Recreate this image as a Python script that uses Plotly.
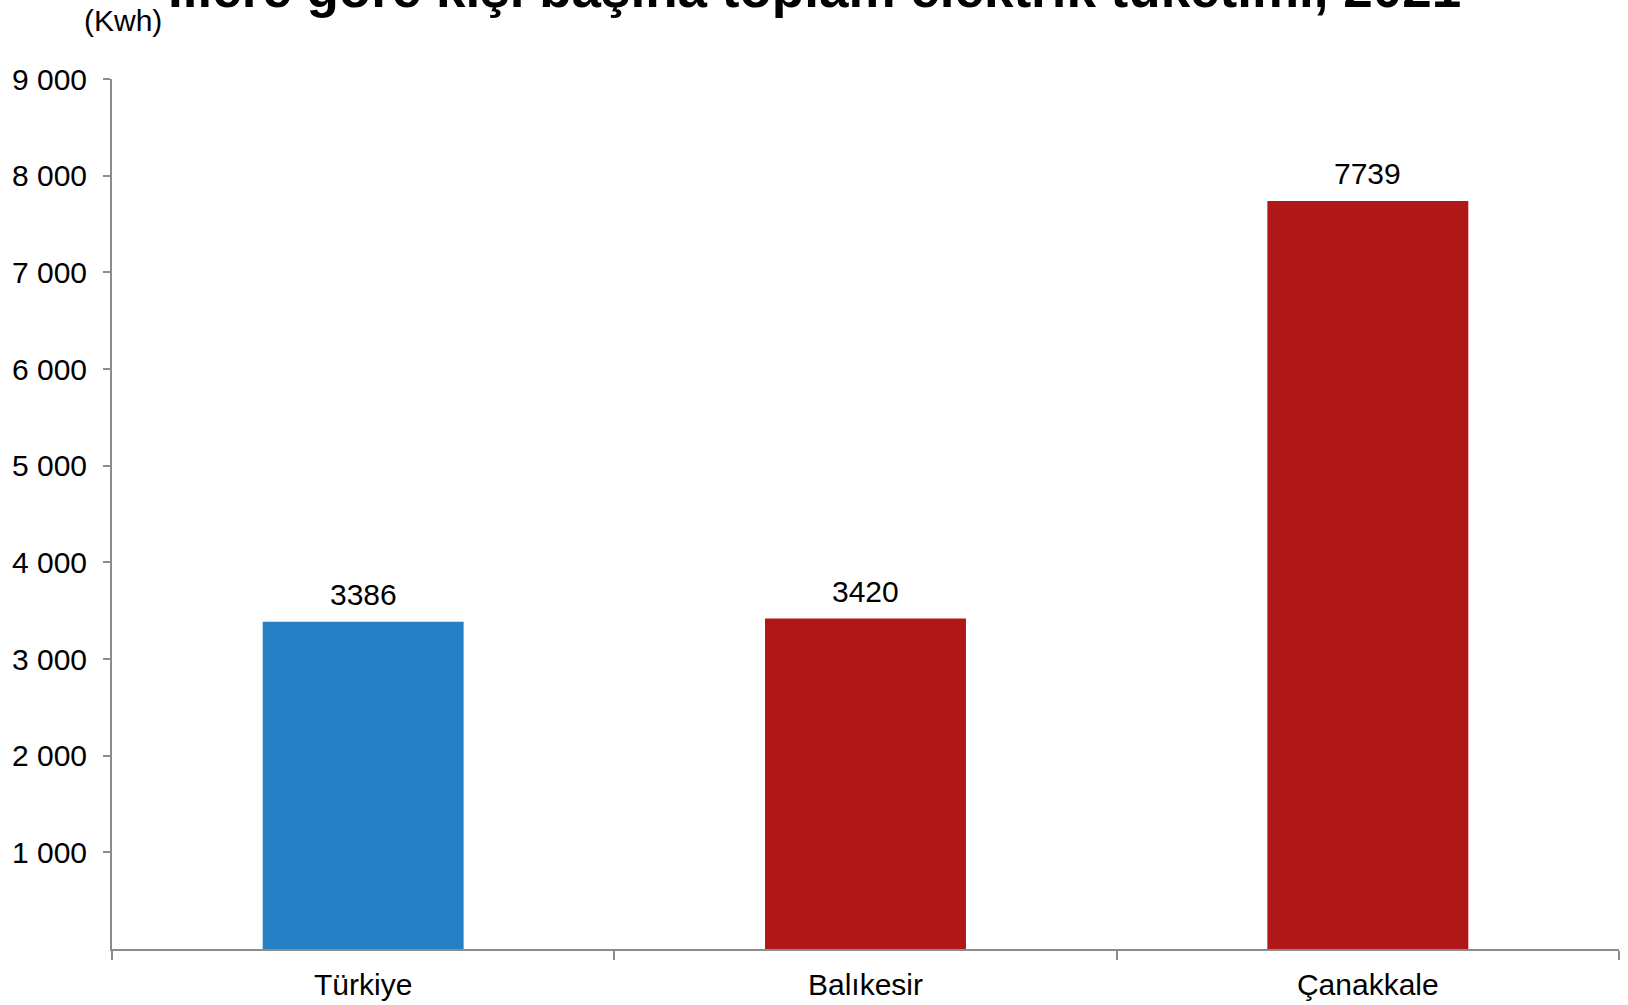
import plotly.graph_objects as go

categories = ["Türkiye", "Balıkesir", "Çanakkale"]
values = [3386, 3420, 7739]
bar_colors = ["#2680C5", "#B01717", "#B01717"]
tick_vals = [1000, 2000, 3000, 4000, 5000, 6000, 7000, 8000, 9000]
tick_text = ["1 000", "2 000", "3 000", "4 000", "5 000", "6 000", "7 000", "8 000", "9 000"]
title_text = "İllere göre kişi başına toplam elektrik tüketimi, 2021"
unit_text = "(Kwh)"

FONT = "Arial, Liberation Sans, Helvetica, sans-serif"
AXIS = "#8C8C8C"
FS = 30

fig = go.Figure()
fig.add_trace(go.Bar(
    x=categories, y=values,
    marker=dict(color=bar_colors, line=dict(width=0)),
    width=0.4,
    hoverinfo="x+y",
))

value_labels = [
    dict(text=str(v), x=c, y=v, xref="x", yref="y", xanchor="center", yanchor="middle",
         yshift=27, showarrow=False, font=dict(size=FS, color="#000000", family=FONT))
    for c, v in zip(categories, values)
]

fig.update_layout(
    width=1628, height=1005,
    margin=dict(l=112, r=9, t=79, b=56, autoexpand=False),
    plot_bgcolor="white", paper_bgcolor="white",
    showlegend=False,
    font=dict(family=FONT, color="#000000", size=FS),
    xaxis=dict(
        automargin=False,
        showline=True, linecolor=AXIS, linewidth=2,
        ticks="outside", ticklen=9, tickcolor=AXIS, tickwidth=2,
        tickson="boundaries", showgrid=False,
        tickfont=dict(size=FS, color="#000000"),
        ticklabelstandoff=8,
    ),
    yaxis=dict(
        automargin=False,
        range=[0, 9000], tickvals=tick_vals, ticktext=tick_text,
        showline=True, linecolor=AXIS, linewidth=2,
        ticks="outside", ticklen=7, tickcolor=AXIS, tickwidth=2,
        showgrid=False, zeroline=False,
        tickfont=dict(size=FS, color="#000000"),
        ticklabelstandoff=10,
    ),
    annotations=value_labels + [
        dict(text=title_text, xref="paper", yref="paper", x=(814 - 112) / 1507, y=1,
             xanchor="center", yanchor="middle", yshift=91, showarrow=False,
             font=dict(size=53, color="#000000", family=FONT, weight="bold")),
        dict(text=unit_text, xref="paper", yref="paper", x=0, y=1,
             xanchor="center", yanchor="middle", xshift=11, yshift=59, showarrow=False,
             font=dict(size=FS, color="#000000", family=FONT)),
    ],
)

fig.write_html(
    "out.html",
    config={"displayModeBar": False},
    post_script="document.body.style.margin='0';document.body.style.overflow='hidden';",
)
